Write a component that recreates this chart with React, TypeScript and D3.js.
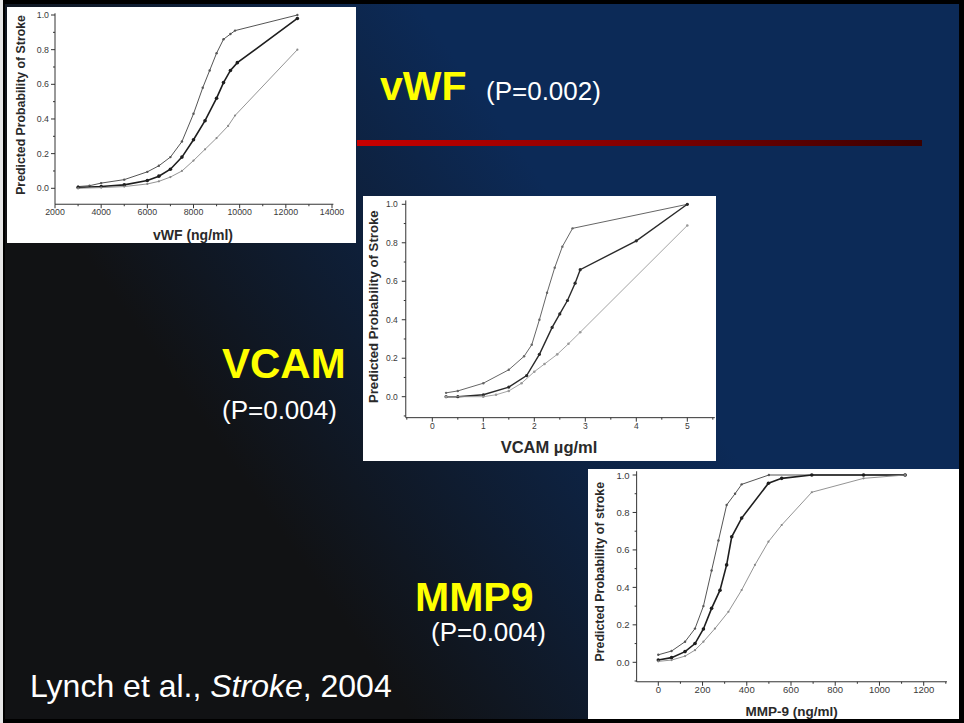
import React from 'react';
import * as d3 from 'd3';

type Pt = [number, number];

// vWF panel (ng/ml vs predicted probability)
const vwfUpper: Pt[] = [[3000, 0.01], [3500, 0.015], [4000, 0.03], [5000, 0.05], [6000, 0.095], [6500, 0.13], [7000, 0.18], [7500, 0.27], [8000, 0.43], [8400, 0.58], [8700, 0.68], [9000, 0.78], [9300, 0.86], [9600, 0.89], [9800, 0.91], [12500, 1.0]];
const vwfMid: Pt[] = [[3000, 0.005], [4000, 0.01], [5000, 0.02], [6000, 0.045], [6500, 0.07], [7000, 0.11], [7500, 0.18], [8000, 0.28], [8500, 0.39], [9000, 0.52], [9300, 0.61], [9600, 0.68], [9900, 0.725], [12500, 0.98]];
const vwfLower: Pt[] = [[3000, 0.0], [4000, 0.004], [5000, 0.01], [6000, 0.025], [6500, 0.04], [7000, 0.065], [7500, 0.1], [8000, 0.16], [8500, 0.225], [9000, 0.29], [9500, 0.36], [9800, 0.42], [12500, 0.8]];
const vwfXTicks = [2000, 4000, 6000, 8000, 10000, 12000, 14000];

// VCAM panel (ug/ml)
const vcamUpper: Pt[] = [[0.27, 0.02], [0.5, 0.03], [1.0, 0.07], [1.5, 0.14], [1.8, 0.21], [1.95, 0.27], [2.1, 0.4], [2.25, 0.54], [2.4, 0.67], [2.55, 0.78], [2.75, 0.875], [5.0, 1.0]];
const vcamMid: Pt[] = [[0.27, 0.0], [0.5, 0.0], [1.0, 0.01], [1.5, 0.05], [1.85, 0.11], [2.1, 0.22], [2.35, 0.36], [2.5, 0.43], [2.65, 0.5], [2.8, 0.59], [2.9, 0.66], [4.0, 0.81], [5.0, 1.0]];
const vcamLower: Pt[] = [[0.27, 0.0], [1.0, 0.0], [1.25, 0.01], [1.5, 0.03], [1.75, 0.07], [2.0, 0.13], [2.2, 0.17], [2.45, 0.22], [2.67, 0.275], [2.9, 0.335], [5.0, 0.89]];
const vcamXTicks = [0, 1, 2, 3, 4, 5];

// MMP-9 panel (ng/ml)
const mmpUpper: Pt[] = [[0, 0.04], [60, 0.06], [121, 0.11], [166, 0.18], [204, 0.3], [241, 0.49], [272, 0.65], [309, 0.84], [347, 0.9], [377, 0.95], [500, 1.0], [930, 1.0], [1115, 1.0]];
const mmpMid: Pt[] = [[0, 0.012], [60, 0.025], [121, 0.057], [166, 0.1], [204, 0.178], [241, 0.288], [279, 0.385], [309, 0.52], [332, 0.67], [377, 0.77], [498, 0.956], [558, 0.982], [694, 1.0], [928, 1.0], [1116, 1.0]];
const mmpLower: Pt[] = [[0, 0.005], [60, 0.012], [121, 0.033], [166, 0.065], [204, 0.11], [256, 0.18], [317, 0.27], [377, 0.386], [437, 0.52], [498, 0.644], [558, 0.733], [694, 0.908], [928, 0.982], [1116, 1.0]];
const mmpXTicks = [0, 200, 400, 600, 800, 1000, 1200];

const probTicks = [0, 0.2, 0.4, 0.6, 0.8, 1.0];

const FONT = "'Liberation Sans', Arial, Helvetica, sans-serif";

type Series = { data: Pt[]; stroke: string; width: number; r: number };

type PanelProps = {
  box: { x: number; y: number; w: number; h: number };
  xDomain: [number, number];
  xRange: [number, number];
  yRange: [number, number];
  xAxis: [number, number];
  yAxis: [number, number];
  xTicks: number[];
  tickFont: number;
  xTickDy: number;
  yTickDx: number;
  xTitle: string;
  yTitle: string;
  xTitleFont: number;
  yTitleFont: number;
  xTitlePos: [number, number];
  yTitlePos: [number, number];
  series: Series[];
};

function Panel(p: PanelProps) {
  const x = d3.scaleLinear().domain(p.xDomain).range(p.xRange);
  const y = d3.scaleLinear().domain([0, 1]).range(p.yRange);
  const line = d3.line<Pt>().x(d => x(d[0])).y(d => y(d[1]));
  const ax = x(p.xAxis[0]);
  const ay = y(p.yAxis[0]);
  const xStep = (p.xTicks[1] - p.xTicks[0]) / 2;
  const xMinor = d3.range(p.xTicks[0] - xStep * 2, p.xAxis[1], xStep)
    .filter(v => v > p.xAxis[0] && v <= p.xAxis[1] && !p.xTicks.includes(v));
  const yMinor = d3.range(-0.1, 1.05, 0.1).map(v => Math.round(v * 10) / 10)
    .filter(v => v > p.yAxis[0] && v <= p.yAxis[1] && Math.round(v * 10) % 2 !== 0);
  const fmtY = d3.format('.1f');
  return (
    <g transform={`translate(${p.box.x},${p.box.y})`}>
      <rect width={p.box.w} height={p.box.h} fill="#fff" />
      <g stroke="#333" strokeWidth={1} fill="none">
        <line x1={ax} x2={ax} y1={ay} y2={y(p.yAxis[1])} />
        <line x1={ax} x2={x(p.xAxis[1])} y1={ay} y2={ay} />
        {p.xTicks.map(t => <line key={'xt' + t} x1={x(t)} x2={x(t)} y1={ay} y2={ay + 4} />)}
        {xMinor.map(t => <line key={'xm' + t} x1={x(t)} x2={x(t)} y1={ay} y2={ay + 2} />)}
        {probTicks.map(t => <line key={'yt' + t} x1={ax - 4} x2={ax} y1={y(t)} y2={y(t)} />)}
        {yMinor.map(t => <line key={'ym' + t} x1={ax - 2} x2={ax} y1={y(t)} y2={y(t)} />)}
      </g>
      <g fontFamily={FONT} fontSize={p.tickFont} fill="#3a3a3a">
        {p.xTicks.map(t => (
          <text key={'xl' + t} x={x(t)} y={ay + p.xTickDy} textAnchor="middle">{t}</text>
        ))}
        {probTicks.map(t => (
          <text key={'yl' + t} x={ax - p.yTickDx} y={y(t)} textAnchor="end" dominantBaseline="central">{fmtY(t)}</text>
        ))}
      </g>
      {p.series.map((s, i) => (
        <g key={'s' + i}>
          <path d={line(s.data) || ''} fill="none" stroke={s.stroke} strokeWidth={s.width} />
          {s.data.map((d, j) => (
            <circle key={j} cx={x(d[0])} cy={y(d[1])} r={s.r} fill={s.stroke} />
          ))}
        </g>
      ))}
      <text x={p.xTitlePos[0]} y={p.xTitlePos[1]} textAnchor="middle" dominantBaseline="central"
        fontFamily={FONT} fontWeight="bold" fontSize={p.xTitleFont} fill="#2a2a2a">{p.xTitle}</text>
      <text transform={`translate(${p.yTitlePos[0]},${p.yTitlePos[1]}) rotate(-90)`} textAnchor="middle"
        dominantBaseline="central" fontFamily={FONT} fontWeight="bold" fontSize={p.yTitleFont} fill="#2a2a2a">{p.yTitle}</text>
    </g>
  );
}

export default function App() {
  const W = 964;
  const H = 723;
  return (
    <div style={{ position: 'fixed', left: 0, top: 0 }}>
      <svg width={W} height={H} style={{ display: 'block' }}>
        <defs>
          <linearGradient id="bg" gradientUnits="userSpaceOnUse" x1={640} y1={320} x2={300} y2={560}>
            <stop offset="0" stopColor="#0c2a57" />
            <stop offset="1" stopColor="#111214" />
          </linearGradient>
          <linearGradient id="rule" x1="0" x2="1" y1="0" y2="0">
            <stop offset="0" stopColor="#c80000" />
            <stop offset="1" stopColor="#3a0000" />
          </linearGradient>
        </defs>
        <rect width={W} height={H} fill="#000" />
        <rect x={0} y={0} width={3} height={H} fill="#e6e6e6" />
        <rect x={5} y={4} width={954} height={715} fill="url(#bg)" />
        <rect x={357} y={140} width={565} height={6} fill="url(#rule)" />

        <Panel
          box={{ x: 7, y: 7, w: 349, h: 236 }}
          xDomain={[2000, 14000]} xRange={[48, 325]} yRange={[181.3, 8]}
          xAxis={[2000, 14060]} yAxis={[-0.092, 1.01]}
          xTicks={vwfXTicks} tickFont={8.8} xTickDy={11} yTickDx={6}
          xTitle="vWF (ng/ml)" yTitle="Predicted Probability of Stroke"
          xTitleFont={14} yTitleFont={12.3} xTitlePos={[186, 228]} yTitlePos={[13.5, 98]}
          series={[
            { data: vwfUpper, stroke: '#555', width: 1, r: 1.2 },
            { data: vwfMid, stroke: '#1e1e1e', width: 1.6, r: 1.8 },
            { data: vwfLower, stroke: '#888', width: 0.9, r: 1.1 },
          ]}
        />
        <Panel
          box={{ x: 363, y: 196, w: 353, h: 265 }}
          xDomain={[0, 5]} xRange={[69.3, 324.3]} yRange={[200.7, 8.3]}
          xAxis={[-0.52, 5.54]} yAxis={[-0.109, 1.02]}
          xTicks={vcamXTicks} tickFont={8.5} xTickDy={11} yTickDx={8}
          xTitle="VCAM µg/ml" yTitle="Predicted Probability of Stroke"
          xTitleFont={16.5} yTitleFont={13.2} xTitlePos={[186, 250.7]} yTitlePos={[10.5, 110.7]}
          series={[
            { data: vcamUpper, stroke: '#666', width: 1, r: 1.2 },
            { data: vcamMid, stroke: '#2a2a2a', width: 1.4, r: 1.6 },
            { data: vcamLower, stroke: '#999', width: 0.9, r: 1.3 },
          ]}
        />
        <Panel
          box={{ x: 588, y: 469, w: 371, h: 250 }}
          xDomain={[0, 1200]} xRange={[70.3, 335.7]} yRange={[193.3, 6]}
          xAxis={[-98, 1305]} yAxis={[-0.104, 1.02]}
          xTicks={mmpXTicks} tickFont={9.5} xTickDy={11} yTickDx={7}
          xTitle="MMP-9 (ng/ml)" yTitle="Predicted Probability of stroke"
          xTitleFont={13.5} yTitleFont={12.4} xTitlePos={[203.7, 242.7]} yTitlePos={[12.3, 102.7]}
          series={[
            { data: mmpUpper, stroke: '#555', width: 1, r: 1.2 },
            { data: mmpMid, stroke: '#1e1e1e', width: 1.6, r: 1.8 },
            { data: mmpLower, stroke: '#888', width: 0.9, r: 1.1 },
          ]}
        />

        <g fontFamily={FONT}>
          <text x={380} y={100} fontSize={41} fontWeight="bold" fill="#ffff00">vWF</text>
          <text x={486} y={100} fontSize={26} fill="#fff">(P=0.002)</text>
          <text x={222} y={378} fontSize={42} fontWeight="bold" fill="#ffff00">VCAM</text>
          <text x={222} y={419} fontSize={26} fill="#fff">(P=0.004)</text>
          <text x={415} y={611} fontSize={41} fontWeight="bold" fill="#ffff00">MMP9</text>
          <text x={431} y={641} fontSize={26} fill="#fff">(P=0.004)</text>
          <text x={30} y={697} fontSize={32} fill="#fff">
            Lynch et al., <tspan fontStyle="italic">Stroke</tspan>, 2004
          </text>
        </g>
      </svg>
    </div>
  );
}
